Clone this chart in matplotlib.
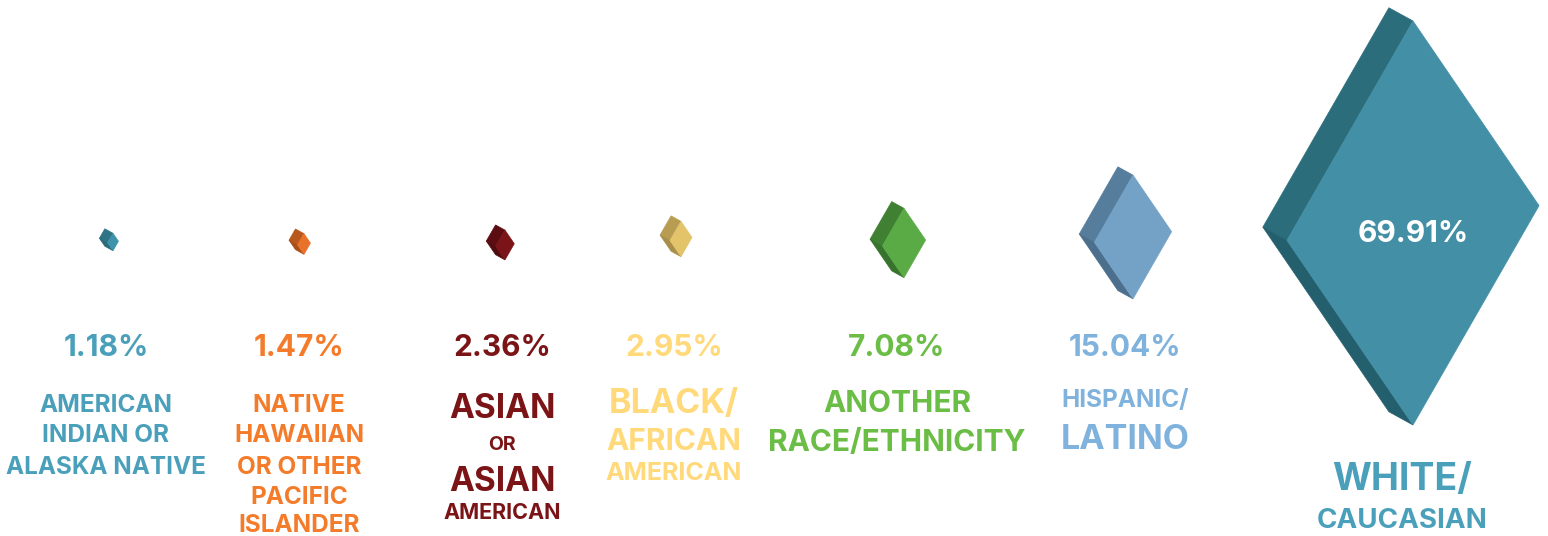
import numpy as np
import matplotlib.pyplot as plt
from matplotlib.patches import Polygon

# data
groups = ["American Indian or Alaska Native", "Native Hawaiian or Other Pacific Islander",
          "Asian or Asian American", "Black/African American", "Another Race/Ethnicity",
          "Hispanic/Latino", "White/Caucasian"]
shares = [1.18, 1.47, 2.36, 2.95, 7.08, 15.04, 69.91]
# label lines: (text, font size in pt)
label_lines = [
    [("AMERICAN", 17.5), ("INDIAN OR", 17.5), ("ALASKA NATIVE", 17.5)],
    [("NATIVE", 17.5), ("HAWAIIAN", 17.5), ("OR OTHER", 17.5), ("PACIFIC", 17.5), ("ISLANDER", 17.5)],
    [("ASIAN", 24), ("OR", 14), ("ASIAN", 24), ("AMERICAN", 15.5)],
    [("BLACK/", 24.5), ("AFRICAN", 21.5), ("AMERICAN", 18)],
    [("ANOTHER", 21.5), ("RACE/ETHNICITY", 21.5)],
    [("HISPANIC/", 17.5), ("LATINO", 24.5)],
    [("WHITE/", 27), ("CAUCASIAN", 20)],
]

# styles
text_colors = ["#4aa0ba", "#f47b2a", "#7b1417", "#ffd97a", "#6abd45", "#7fb2dc", "#4aa0bb"]
front_colors = ["#3e93aa", "#e8722a", "#7a1418", "#e3c46a", "#5aab45", "#73a2c6", "#428fa6"]
side_colors = ["#2f7486", "#b9581c", "#5c0d11", "#b79c52", "#3f8032", "#567d9c", "#2c6d7c"]
bottom_colors = ["#296a7a", "#a84f18", "#520b0f", "#a88e48", "#37732c", "#4b6f8c", "#245f6e"]

# layout (pixels)
diamond_x = [113, 304, 505, 681, 904, 1133, 1413]
diamond_y = [242, 244, 245, 239, 243, 237, 223]
label_x = [106, 299, 502, 674, 897, 1125, 1402]
label_y = [
    [402, 433, 464],
    [402, 433, 464, 494, 522],
    [406, 442, 479, 510],
    [401, 439, 470],
    [401, 440],
    [397, 437],
    [477, 518],
]
pct_y = 345
dy = 3  # baseline nudge
FONT = ["Inter", "DejaVu Sans"]

fig = plt.figure(figsize=(15.48, 5.36), dpi=100)
ax = fig.add_axes([0, 0, 1, 1])
ax.set_xlim(0, 1548)
ax.set_ylim(536, 0)
ax.axis("off")

vmax = max(shares)


def diamond(cx, cy, h, front, side, bottom):
    hw = 0.312 * h
    sk = 0.043 * h
    top = (cx, cy - h / 2)
    right = (cx + hw, cy - sk)
    bot = (cx, cy + h / 2)
    left = (cx - hw, cy + sk)
    d = 4 + np.sqrt(h)
    ox, oy = -d, -0.55 * d
    back = lambda p: (p[0] + ox, p[1] + oy)
    ax.add_patch(Polygon([top, back(top), back(left), left], closed=True,
                         facecolor=side, edgecolor=side, lw=0.5))
    ax.add_patch(Polygon([left, back(left), back(bot), bot], closed=True,
                         facecolor=bottom, edgecolor=bottom, lw=0.5))
    ax.add_patch(Polygon([top, right, bot, left], closed=True,
                         facecolor=front, edgecolor=front, lw=0.5))


for i, v in enumerate(shares):
    h = 404 * (v / vmax) ** 0.77
    diamond(diamond_x[i], diamond_y[i], h, front_colors[i], side_colors[i], bottom_colors[i])
    if i < len(shares) - 1:
        ax.text(label_x[i], pct_y + dy, f"{v:.2f}%", color=text_colors[i], fontsize=21.5,
                fontweight="bold", family=FONT, ha="center", va="center")
    else:
        ax.text(diamond_x[i], 231 + dy, f"{v:.2f}%", color="white", fontsize=21.5,
                fontweight="bold", family=FONT, ha="center", va="center")
    for (txt, fs), y in zip(label_lines[i], label_y[i]):
        ax.text(label_x[i], y + dy, txt, color=text_colors[i], fontsize=fs,
                fontweight="bold", family=FONT, ha="center", va="center")

fig.savefig("out.png", dpi=100, facecolor="white")
